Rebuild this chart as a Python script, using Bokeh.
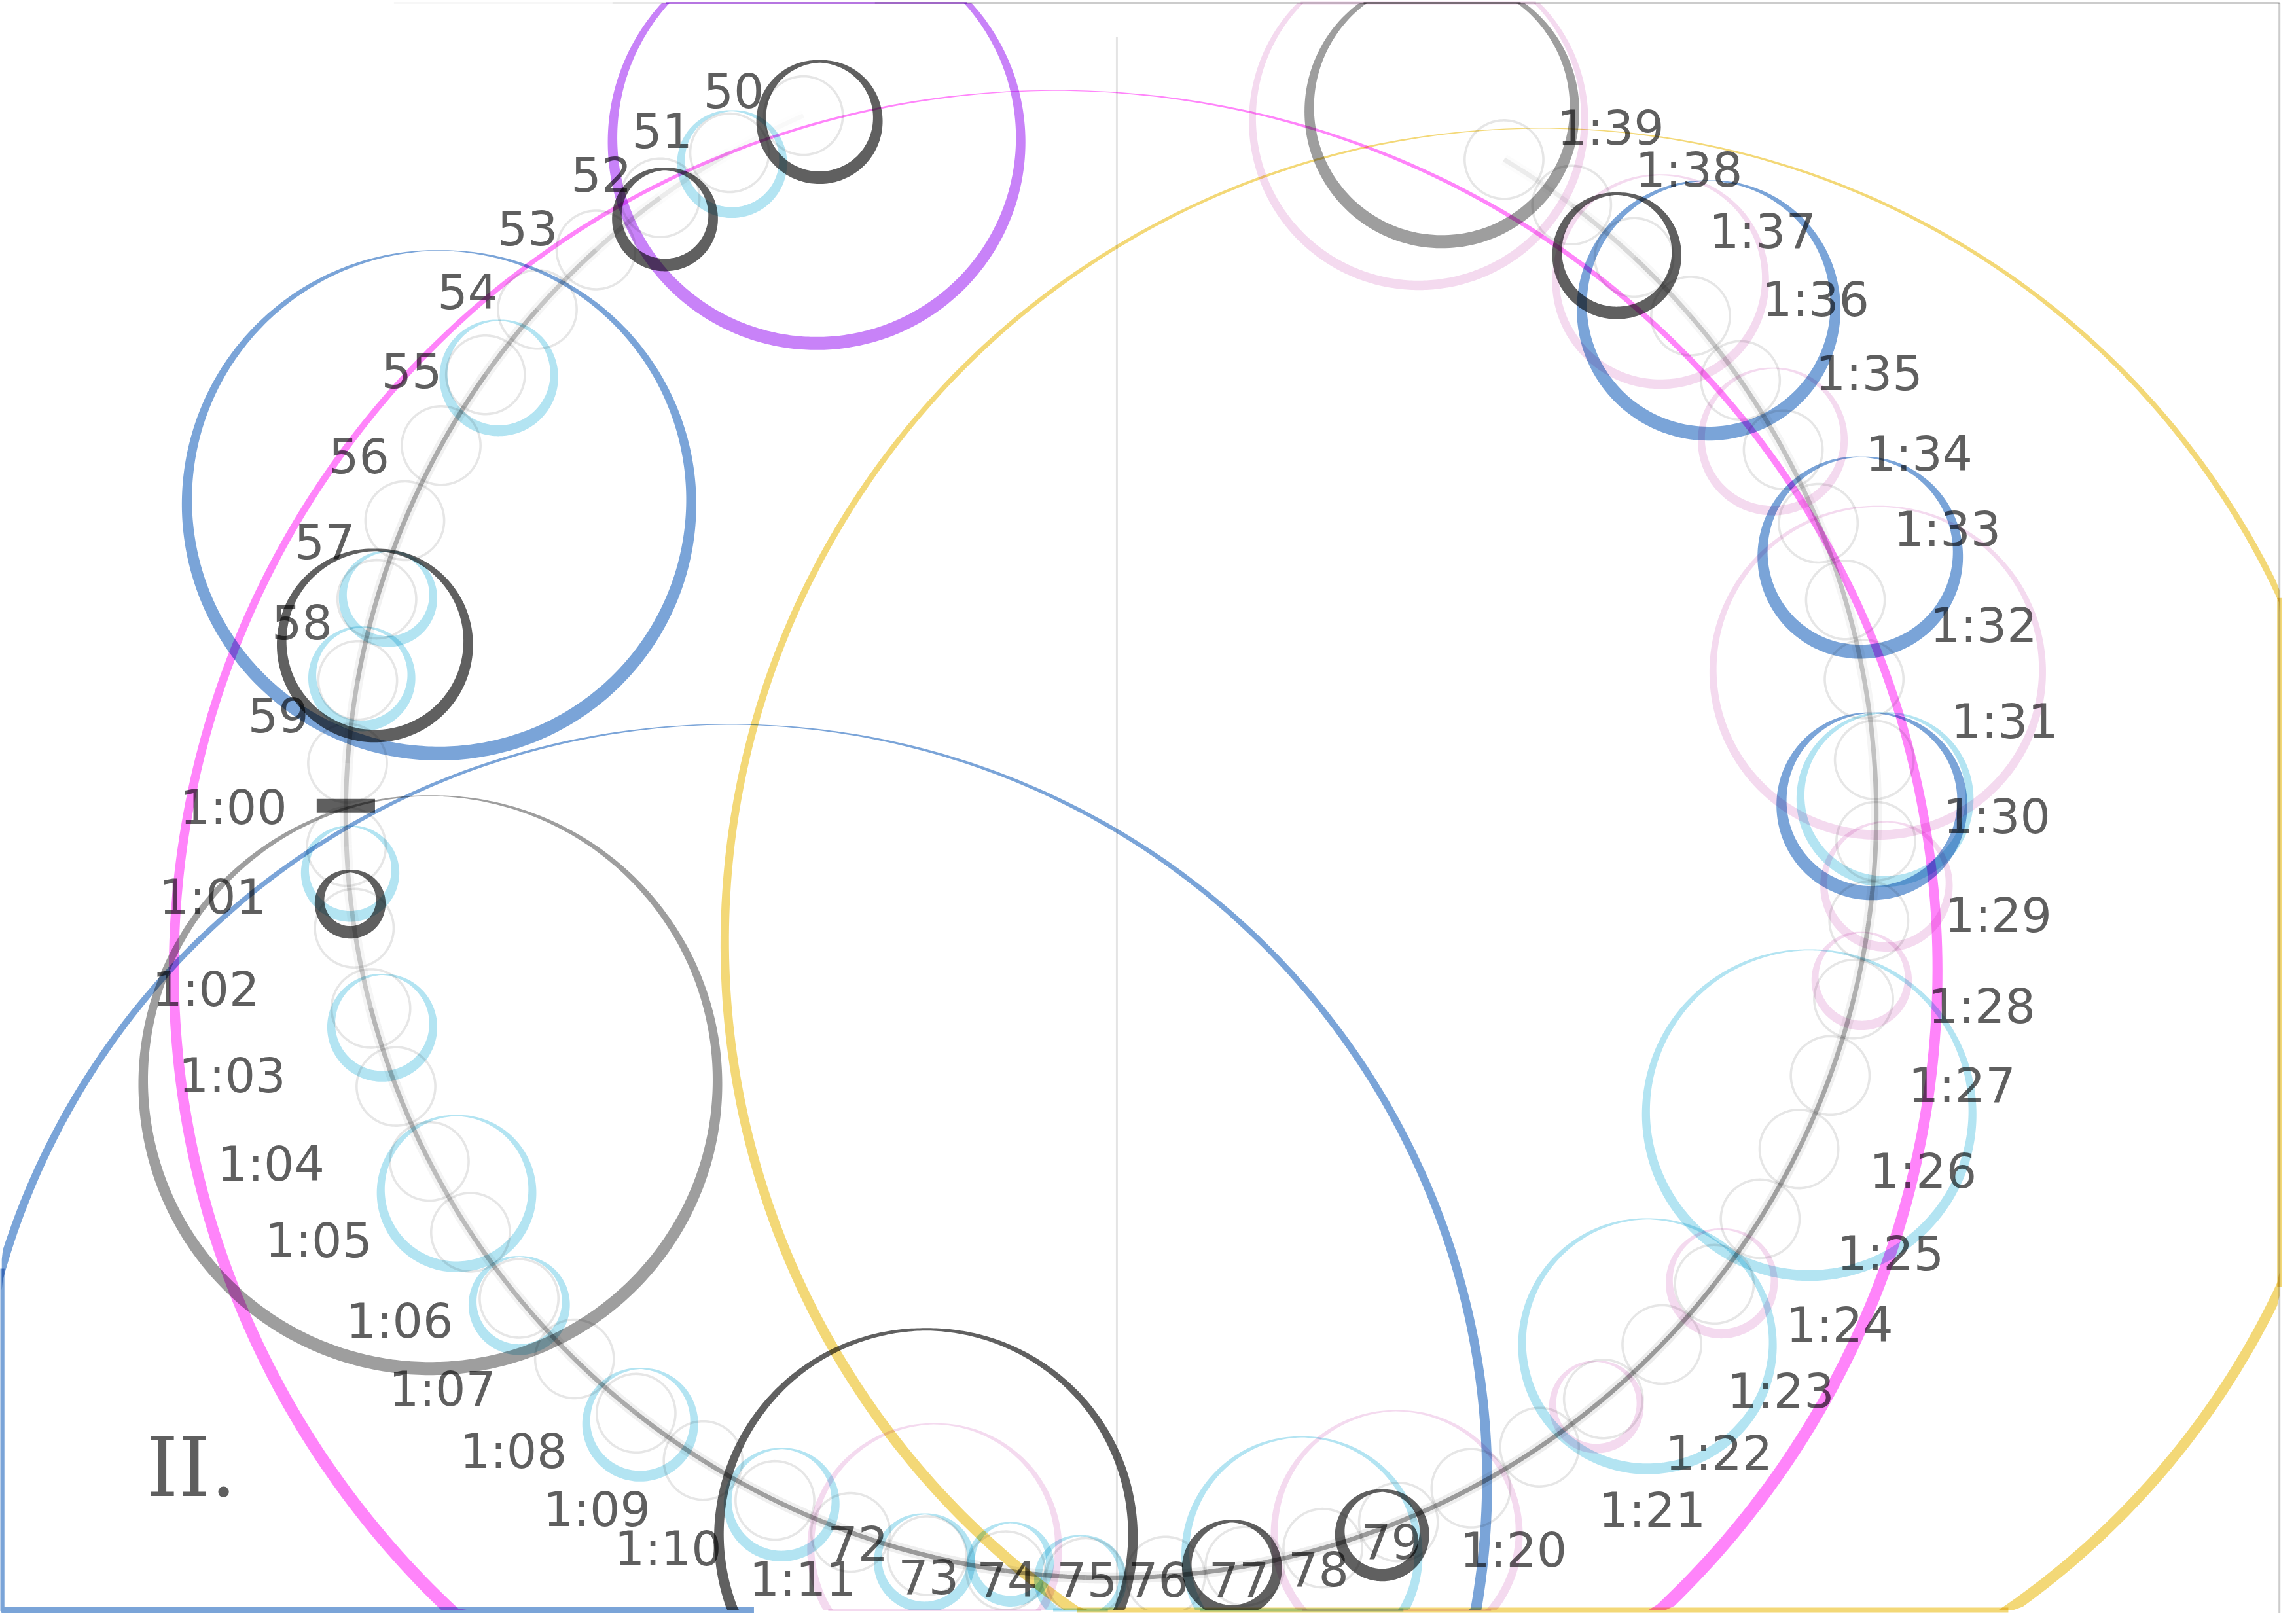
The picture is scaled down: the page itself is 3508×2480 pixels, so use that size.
import numpy as np
from bokeh.plotting import figure
from bokeh.models import Range1d, ColumnDataSource, CustomJS
from bokeh.document import Document
from bokeh.embed import file_html
from bokeh.resources import INLINE
from bokeh.core.properties import value

# ---------------- data ----------------
minutes = list(range(50, 100))
labels = (["50", "51", "52", "53", "54", "55", "56", "57", "58", "59"]
          + ["1:00", "1:01", "1:02", "1:03", "1:04", "1:05", "1:06", "1:07",
             "1:08", "1:09", "1:10", "1:11"]
          + ["72", "73", "74", "75", "76", "77", "78", "79"]
          + ["1:20", "1:21", "1:22", "1:23", "1:24", "1:25", "1:26", "1:27",
             "1:28", "1:29", "1:30", "1:31", "1:32", "1:33", "1:34", "1:35",
             "1:36", "1:37", "1:38", "1:39"])
path_end_minute = 100
hour_mark_minute = 60
section_label = "II."

# calibration of the spiral scale (minute -> angle in degrees)
scale_minutes = [50, 53, 61, 72, 90, 100]
scale_degrees = [113.7, 132.3, 182.4, 250.1, 358.0, 419.1]

# shading of the path, one value per minute segment
path_shade = [0.05, 0.15, 0.3, 0.45, 0.6, 0.7, 0.7, 0.7, 0.65, 0.55,
              0.45, 0.4, 0.45, 0.6, 0.6, 0.55, 0.6, 0.65, 0.7, 0.75, 0.8, 0.8,
              0.85, 0.85, 0.85, 0.85, 0.85, 0.85, 0.85, 0.85,
              0.85, 0.85, 0.85, 0.85, 0.8, 0.8, 0.75, 0.7, 0.65, 0.6,
              0.55, 0.5, 0.5, 0.5, 0.5, 0.5, 0.45, 0.4, 0.3, 0.15]

# rings (chart units)
ring_x = [560, 562, 502, 456, 342, 301, 257, 266, 248, 240, 240, 295, 500, 724,
          262, 313, 356, 439, 536, 635, 641, 634, 693, 741, 893, 958, 845, 948,
          1057, 1130, 1095, 1241, 1181, 1277, 1294, 1288, 1293, 1284, 1276, 1216,
          1172, 1139, 1109, 989, 973]
ring_y = [96, 82, 111, 149, 258, 345, 442, 410, 465, 599, 620, 744, 1018, 667,
          705, 819, 896, 978, 1033, 1056, 1064, 1073, 1074, 1085, 1068, 1054, 1077, 1054,
          648, 924, 966, 765, 881, 673, 608, 461, 548, 552, 381, 302,
          211, 192, 174, 75, 82]
ring_r = [140, 40, 35, 33, 38, 173, 64, 31, 34, 31, 21, 197, 520, 605,
          35, 52, 32, 37, 37, 142, 85, 32, 27, 29, 80, 84, 31, 29,
          560, 86, 30, 112, 36, 32, 43, 113, 58, 62, 67, 49,
          87, 72, 41, 91, 114]
ring_kind = ["purple", "dark", "lightblue", "dark", "lightblue", "blue", "dark",
             "lightblue", "lightblue", "lightblue", "dark", "gray", "blue", "magenta",
             "lightblue", "lightblue", "lightblue", "lightblue", "lightblue", "dark",
             "pink", "lightblue", "lightblue", "lightblue", "lightblue", "pink", "dark",
             "dark", "yellow", "lightblue", "pink", "lightblue", "pink", "pink", "pink",
             "pink", "lightblue", "blue", "blue", "pink", "blue", "pink", "dark", "gray",
             "pink"]

# label placement adjustments (chart units)
label_nudge = {
    "50": (-10, 10), "51": (-4, 10), "52": (6, 6), "53": (3, 3), "54": (5, 1),
    "55": (4, 5), "56": (-1, 9), "57": (0, 10), "58": (2, 5), "59": (-4, 7),
    "1:00": (0, 9), "1:01": (-15, 5), "1:02": (-27, 4), "1:03": (-24, 0),
    "1:04": (-20, 0), "1:05": (-17, -5), "1:06": (2, -3), "1:07": (-11, -5),
    "1:08": (-10, -5), "1:09": (-5, -2), "1:10": (-12, -5), "1:11": (22, 6),
    "72": (5, 5), "73": (1, 12), "74": (1, 8), "75": (1, 8), "76": (-5, 5),
    "77": (-4, 10), "78": (-3, 12), "79": (-5, 11),
    "1:20": (-20, -2), "1:21": (21, 0), "1:22": (16, -3), "1:23": (12, -4),
    "1:24": (11, -2), "1:25": (10, 1), "1:26": (3, 0), "1:27": (7, 0),
    "1:28": (5, 7), "1:29": (8, 7), "1:30": (6, 2), "1:31": (13, 1),
    "1:32": (8, -1), "1:33": (0, -5), "1:34": (5, 3), "1:35": (2, 4),
    "1:36": (3, 5), "1:37": (10, 5), "1:38": (8, 4), "1:39": (7, 10),
}

# ---------------- styles ----------------
STYLE = {  # color, alpha, max thickness, min thickness, edge width px
    "faint":     ("#e6e6e6", 1.0, 1.6, 1.6, 0),
    "pink":      ("#efcbe8", 0.7, 6.5, 0.8, 4),
    "lightblue": ("#a8e0f0", 0.88, 7.4, 0.7, 5),
    "yellow":    ("#f2d56b", 0.92, 8.0, 0.4, 7),
    "magenta":   ("#ff77f9", 0.9, 9.5, 0.4, 0),
    "blue":      ("#6b9ad4", 0.9, 9.6, 0.4, 8),
    "gray":      ("#939393", 0.9, 9.0, 0.5, 3),
    "purple":    ("#c274f7", 0.9, 9.0, 0.5, 3),
    "dark":      ("#606060", 1.0, 8.6, 1.7, 0),
}
LABEL_COLOR = "#5f5f5f"

W_PX, H_PX = 3492, 2464
X_RANGE, Y_RANGE = (0, 1568), (1109, 0)
PX_PER_UNIT = W_PX / (X_RANGE[1] - X_RANGE[0])
BOX = (1.0, 1563.6, 1.8, 1107.0)  # xmin, xmax, ymin, ymax
CENTER_X, CENTER_Y, PATH_R = 762.0, 560.0, 525.0
FS = 32.8  # label font size in chart units
LABEL_MAX_Y = 1086


def angle_of(m):
    return np.radians(np.interp(m, scale_minutes, scale_degrees))


def path_xy(m, rad=PATH_R):
    th = angle_of(m)
    return CENTER_X + rad * np.cos(th), CENTER_Y - rad * np.sin(th)


def ring_shape(cx, cy, r, tmax, tmin, n):
    a = np.linspace(0, 2 * np.pi, n)
    phi_top = np.abs((a + np.pi / 2 + np.pi) % (2 * np.pi) - np.pi)
    t = tmin + (tmax - tmin) * np.sin(phi_top / 2)
    ro, ri = r + t / 2, np.maximum(r - t / 2, 0.1)
    xo, yo = cx + ro * np.cos(a), cy + ro * np.sin(a)
    xi, yi = (cx + ri * np.cos(a))[::-1], (cy + ri * np.sin(a))[::-1]
    cl = np.clip
    return ([cl(xo, BOX[0], BOX[1]).tolist(), cl(xi, BOX[0], BOX[1]).tolist()],
            [cl(yo, BOX[2], BOX[3]).tolist(), cl(yi, BOX[2], BOX[3]).tolist()])


def edge_line(cx, cy, r, kind, n=720):
    a = np.linspace(0, 2 * np.pi, n)
    x, y = cx + r * np.cos(a), cy + r * np.sin(a)
    out = (x < BOX[0]) | (x > BOX[1]) | (y < BOX[2]) | (y > BOX[3])
    if kind == "blue":
        out &= x <= cx + 20
    if not out.any():
        return None
    xc, yc = np.clip(x, BOX[0], BOX[1]), np.clip(y, BOX[2], BOX[3])
    xc[~out] = np.nan
    yc[~out] = np.nan
    return xc, yc


p = figure(width=W_PX, height=H_PX, x_range=Range1d(*X_RANGE), y_range=Range1d(*Y_RANGE),
           output_backend="svg", toolbar_location=None, min_border=0)
p.axis.visible = False
p.grid.visible = False
p.outline_line_color = None
p.background_fill_color = "white"
p.border_fill_color = "white"

# frame lines
p.line([766, 766], [25, BOX[3]], line_color="#e4e4e4", line_width=3)
for x0, x1, al in [(270, 420, 0.15), (420, 600, 0.45), (600, BOX[1], 1.0)]:
    p.line([x0, x1], [BOX[2], BOX[2]], line_color="#cccccc", line_width=3, line_alpha=al)
p.line([BOX[1], BOX[1]], [BOX[2], 1109], line_color="#cccccc", line_width=3)


def draw_rings(kind_list, n_big=480, n_small=200):
    for kind in kind_list:
        color, alpha, tmax, tmin, edge_w = STYLE[kind]
        xs, ys = [], []
        for x, y, r, k in zip(ring_x, ring_y, ring_r, ring_kind):
            if k != kind:
                continue
            ox, oy = ring_shape(x, y, r, tmax, tmin, n_big if r > 100 else n_small)
            xs.append([ox])
            ys.append([oy])
            if edge_w:
                e = edge_line(x, y, r, kind)
                if e is not None:
                    p.line(e[0], e[1], line_color=color, line_width=edge_w, line_alpha=alpha)
        if xs:
            p.multi_polygons(xs=xs, ys=ys, fill_color=color, fill_alpha=alpha, line_alpha=0)


# faint circle at every minute point
fxs, fys = [], []
color, alpha, tmax, tmin, _ = STYLE["faint"]
for m in list(minutes) + [path_end_minute]:
    px, py = path_xy(m)
    ox, oy = ring_shape(px, py, 27.0, tmax, tmin, 160)
    fxs.append([ox])
    fys.append([oy])
p.multi_polygons(xs=fxs, ys=fys, fill_color=color, fill_alpha=alpha, line_alpha=0)

draw_rings(["pink"])

# path
seg_x, seg_y = [], []
for m in minutes:
    mm = np.linspace(m, m + 1, 40)
    sx, sy = path_xy(mm)
    seg_x.append(sx.tolist())
    seg_y.append(sy.tolist())
src = ColumnDataSource(dict(xs=seg_x, ys=seg_y, a=path_shade,
                            a2=[v * 0.3 for v in path_shade]))
p.multi_line("xs", "ys", source=src, line_color="#bdbdbd", line_width=17, line_alpha="a2")
p.multi_line("xs", "ys", source=src, line_color="#959595", line_width=7, line_alpha="a")

draw_rings(["lightblue", "yellow", "magenta", "blue", "gray", "purple", "dark"])

# hour mark
th_h = angle_of(hour_mark_minute) + np.radians(3.2)
hx, hy = CENTER_X + PATH_R * np.cos(th_h), CENTER_Y - PATH_R * np.sin(th_h)
p.rect(x=[hx], y=[hy], width=40, height=9.5, fill_color="#5f5f5f", line_alpha=0)

# labels
label_shift = np.radians(2.3)
DIG, COLON, HGT = 0.636 * FS, 0.337 * FS, 0.729 * FS
lx, ly = [], []
for m, t in zip(minutes, labels):
    w = sum(COLON if ch == ":" else DIG for ch in t)
    if ":" not in t and m >= 60:
        x, y = path_xy(m)
    else:
        th = angle_of(m) + label_shift
        d = 528 + w * abs(np.cos(th)) + HGT * abs(np.sin(th))
        x, y = CENTER_X + d * np.cos(th), CENTER_Y - d * np.sin(th)
    dx, dy = label_nudge.get(t, (0, 0))
    lx.append(float(x) + dx)
    ly.append(min(float(y) + dy + 0.0675 * FS, LABEL_MAX_Y))
p.text(x=lx, y=ly, text=labels, text_align="center", text_baseline="middle",
       text_font=value("DejaVu Sans"), text_font_size=f"{FS * PX_PER_UNIT:.1f}px",
       text_color=LABEL_COLOR)

p.text(x=[131], y=[1009], text=[section_label], text_align="center", text_baseline="middle",
       text_font=value("DejaVu Serif"), text_font_size=f"{56 * PX_PER_UNIT:.1f}px",
       text_color=LABEL_COLOR)

doc = Document()
doc.add_root(p)
blend_js = """
function apply(root) {
  root.querySelectorAll('svg *').forEach(function (e) {
    if (e.tagName !== 'svg' && e.tagName !== 'defs' && e.tagName !== 'clipPath') {
      e.style.mixBlendMode = 'multiply';
    }
  });
  root.querySelectorAll('*').forEach(function (e) { if (e.shadowRoot) apply(e.shadowRoot); });
}
var n = 0;
var id = setInterval(function () { apply(document); n += 1; if (n > 60) clearInterval(id); }, 200);
apply(document);
"""
try:
    doc.js_on_event("document_ready", CustomJS(code=blend_js))
except Exception:
    pass

open("out.html", "w").write(file_html(p, INLINE))
